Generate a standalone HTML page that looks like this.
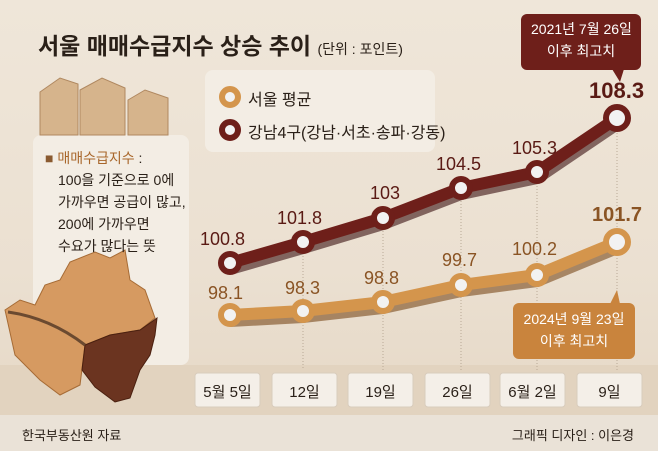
<!DOCTYPE html>
<html><head><meta charset="utf-8"><style>
body{margin:0;}
#c{width:658px;height:451px;position:relative;overflow:hidden;background:linear-gradient(180deg,#efe6d9 0%,#ebe0d1 60%,#e4d6c4 100%);font-family:"Liberation Sans","Noto Sans CJK KR",sans-serif;}
.t{position:absolute;white-space:nowrap;}
</style></head><body><div id="c">
<svg width="658" height="451" style="position:absolute;left:0;top:0">
<rect x="205" y="70" width="230" height="82" rx="8" fill="#f3ede4"/>
<rect x="33" y="135" width="156" height="230" rx="8" fill="#f3ede4"/>
<rect x="0" y="365" width="658" height="50" fill="#e2d3bf"/>
<rect x="0" y="415" width="658" height="36" fill="#eae2d7"/>
<g stroke="#b9a996" stroke-dasharray="1,2" stroke-width="1">
<line x1="303" y1="250" x2="303" y2="370"/><line x1="383" y1="225" x2="383" y2="370"/><line x1="461" y1="195" x2="461" y2="370"/><line x1="537" y1="180" x2="537" y2="370"/><line x1="617" y1="130" x2="617" y2="230"/><line x1="617" y1="255" x2="617" y2="370"/>
</g>
<g fill="#d6b48c" stroke="#b08860" stroke-width="1">
<path d="M40 92 L60 78 L78 84 L78 135 L40 135Z"/>
<path d="M80 90 L102 78 L125 88 L125 135 L80 135Z"/>
<path d="M128 100 L145 90 L168 98 L168 135 L128 135Z"/>
</g>
<path d="M5 310 L20 300 L35 305 L45 285 L60 280 L70 262 L95 252 L110 258 L125 250 L130 280 L145 290 L155 318 L140 330 L110 335 L85 345 L80 385 L60 395 L40 380 L15 355 Z" fill="#d69a61" stroke="#a66b35"/>
<path d="M85 345 L110 335 L140 330 L157 318 L155 335 L150 355 L140 370 L130 398 L115 402 L95 387 L82 370 Z" fill="#6b3420" stroke="#4a2010"/>
<path d="M8 312 Q50 318 85 345" stroke="#6b4a30" stroke-width="3" fill="none"/>
<polyline points="230,263 303,242 383,218 461,188 537,172 617,118" fill="none" stroke="#3a1010" stroke-width="14" transform="translate(0,5)" opacity="0.6"/>
<polyline points="230,263 303,242 383,218 461,188 537,172 617,118" fill="none" stroke="#6e1f1a" stroke-width="12"/>
<polyline points="230,315 303,311 383,302 461,285 537,275 617,242" fill="none" stroke="#7a4a1a" stroke-width="14" transform="translate(0,5)" opacity="0.6"/>
<polyline points="230,315 303,311 383,302 461,285 537,275 617,242" fill="none" stroke="#d4954c" stroke-width="12"/>
<g fill="#f2f2f2" stroke="#6e1f1a" stroke-width="6">
<circle cx="230" cy="263" r="9"/><circle cx="303" cy="242" r="9"/><circle cx="383" cy="218" r="9"/><circle cx="461" cy="188" r="9"/><circle cx="537" cy="172" r="9"/><circle cx="617" cy="118" r="11"/>
</g>
<g fill="#f2f2f2" stroke="#d4954c" stroke-width="6">
<circle cx="230" cy="315" r="9"/><circle cx="303" cy="311" r="9"/><circle cx="383" cy="302" r="9"/><circle cx="461" cy="285" r="9"/><circle cx="537" cy="275" r="9"/><circle cx="617" cy="242" r="11"/>
</g>
<circle cx="230" cy="97" r="8" fill="#f2f2f2" stroke="#d4954c" stroke-width="6"/>
<circle cx="230" cy="130" r="8" fill="#f2f2f2" stroke="#6e1f1a" stroke-width="6"/>
<rect x="521" y="14" width="120" height="56" rx="6" fill="#6e1f1a"/>
<path d="M612 69 L620 82 L624 69Z" fill="#6e1f1a"/>
<rect x="513" y="303" width="122" height="56" rx="6" fill="#c9843d"/>
<path d="M610 304 L617 290 L620 304Z" fill="#c9843d"/>
<g fill="#f4efe8" stroke="#d8ccbc">
<rect x="195" y="373" width="65" height="34" rx="3"/><rect x="272" y="373" width="65" height="34" rx="3"/><rect x="348" y="373" width="65" height="34" rx="3"/><rect x="425" y="373" width="65" height="34" rx="3"/><rect x="500" y="373" width="65" height="34" rx="3"/><rect x="577" y="373" width="65" height="34" rx="3"/>
</g>
</svg>
<div class="t" style="left:38px;top:27px;font-size:23px;font-weight:bold;color:#2a2018">서울 매매수급지수 상승 추이 <span style="font-size:14px;font-weight:normal">(단위 : 포인트)</span></div>
<div class="t" style="left:248px;top:86px;font-size:16px;color:#2a2018">서울 평균</div>
<div class="t" style="left:248px;top:119px;font-size:16px;color:#2a2018">강남4구(강남·서초·송파·강동)</div>
<div class="t" style="left:45px;top:148px;font-size:14px;color:#a8662a"><span style="color:#8a5a30">■</span> 매매수급지수<span style="color:#2a2018"> :</span></div>
<div class="t" style="left:58px;top:169px;font-size:14px;line-height:22px;color:#2a2018">100을 기준으로 0에<br>가까우면 공급이 많고,<br>200에 가까우면<br>수요가 많다는 뜻</div>
<div class="t" style="left:531px;top:18px;width:100px;text-align:center;font-size:14px;line-height:22px;color:#fff">2021년 7월 26일<br>이후 최고치</div>
<div class="t" style="left:519px;top:308px;width:110px;text-align:center;font-size:14px;line-height:22px;color:#fff">2024년 9월 23일<br>이후 최고치</div>
<div style="color:#5a1a14;font-size:18px">
<div class="t" style="left:200px;top:229px">100.8</div><div class="t" style="left:277px;top:208px">101.8</div><div class="t" style="left:370px;top:183px">103</div><div class="t" style="left:436px;top:154px">104.5</div><div class="t" style="left:512px;top:138px">105.3</div><div class="t" style="left:589px;top:78px;font-size:22px;font-weight:bold">108.3</div>
</div>
<div style="color:#8a5424;font-size:18px">
<div class="t" style="left:208px;top:283px">98.1</div><div class="t" style="left:285px;top:278px">98.3</div><div class="t" style="left:364px;top:268px">98.8</div><div class="t" style="left:442px;top:250px">99.7</div><div class="t" style="left:512px;top:239px">100.2</div><div class="t" style="left:592px;top:204px;font-size:20px;font-weight:bold">101.7</div>
</div>
<div style="font-size:15px;color:#2a2018">
<div class="t" style="left:195px;top:381px;width:65px;text-align:center">5월 5일</div><div class="t" style="left:272px;top:381px;width:65px;text-align:center">12일</div><div class="t" style="left:348px;top:381px;width:65px;text-align:center">19일</div><div class="t" style="left:425px;top:381px;width:65px;text-align:center">26일</div><div class="t" style="left:500px;top:381px;width:65px;text-align:center">6월 2일</div><div class="t" style="left:577px;top:381px;width:65px;text-align:center">9일</div>
</div>
<div class="t" style="left:22px;top:425px;font-size:13px;color:#2a2018">한국부동산원 자료</div>
<div class="t" style="right:24px;top:425px;font-size:13px;color:#2a2018">그래픽 디자인 : 이은경</div>
</div></body></html>
